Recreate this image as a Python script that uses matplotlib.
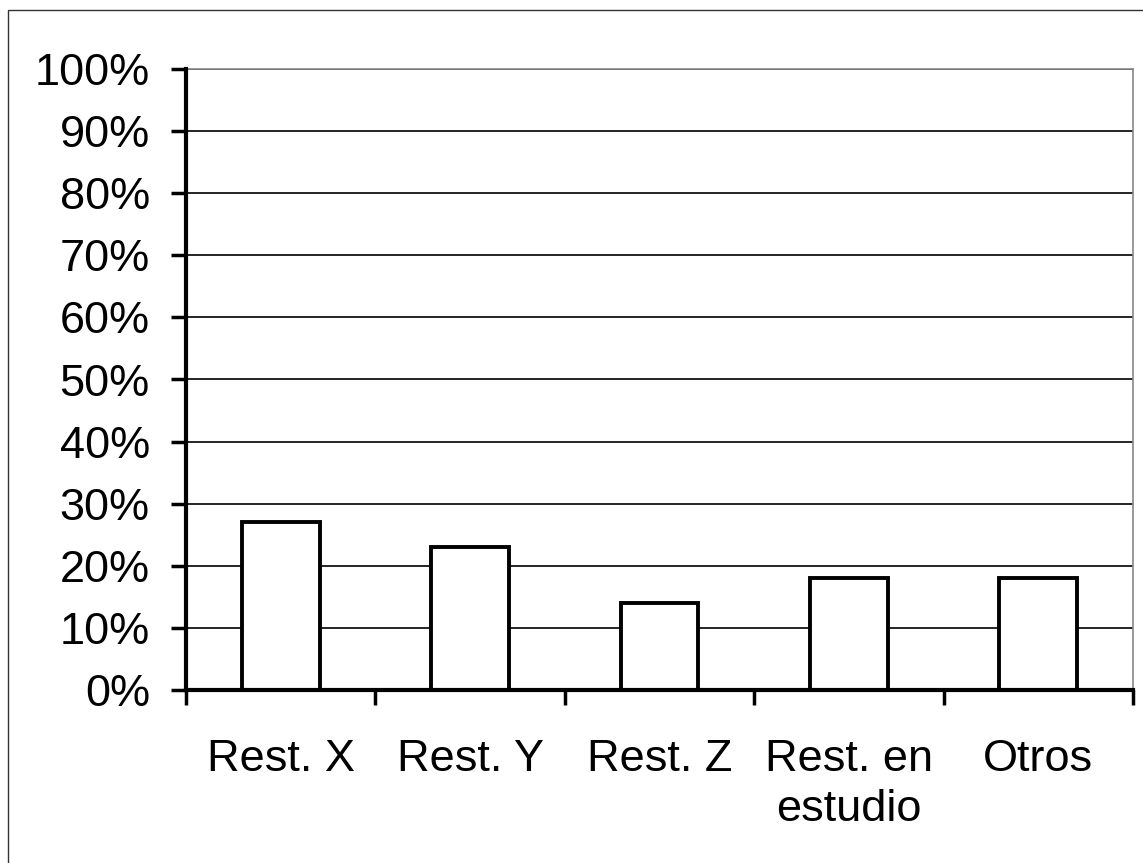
import matplotlib
matplotlib.use("Agg")
import matplotlib.pyplot as plt
from matplotlib.patches import Rectangle
from matplotlib.ticker import FuncFormatter
import numpy as np

# Chart data
categories = ["Rest. X", "Rest. Y", "Rest. Z", "Rest. en\nestudio", "Otros"]
shares = [27, 23, 14, 18, 18]
y_ticks = list(range(0, 101, 10))

plt.rcParams["font.family"] = ["Liberation Sans", "DejaVu Sans"]

fig = plt.figure(figsize=(11.43, 8.63), dpi=100)
ax = fig.add_axes([186 / 1143, 1 - 690 / 863, 947 / 1143, 621 / 863])

x = np.arange(len(categories))
ax.bar(x, shares, width=0.41, color="white", edgecolor="black",
       linewidth=2.8, zorder=3)

ax.set_xlim(-0.5, len(categories) - 0.5)
ax.set_ylim(0, 100)
ax.set_yticks(y_ticks)
ax.yaxis.set_major_formatter(FuncFormatter(lambda v, p: f"{v:.0f}%"))
ax.grid(axis="y", color="black", linewidth=1.2, zorder=1)

# category labels at centres, tick marks at boundaries
ax.set_xticks(x)
ax.set_xticklabels(categories, linespacing=1.3)
ax.set_xticks(np.arange(-0.5, len(categories)), minor=True)
ax.tick_params(axis="x", which="major", length=0, pad=35, labelsize=32.5)
ax.tick_params(axis="x", which="minor", length=11, width=2.5,
               direction="out", color="black")
ax.tick_params(axis="y", length=11, width=2.5, pad=15, labelsize=32.5)

for side in ["left", "bottom"]:
    ax.spines[side].set_linewidth(3.0)
    ax.spines[side].set_zorder(4)
for side in ["top", "right"]:
    ax.spines[side].set_color("#888888")
    ax.spines[side].set_linewidth(1.2)

# thin frame around the chart area
fig.patches.append(Rectangle((8 / 1143, -0.05), 1.1, 1 - 10 / 863 + 0.05,
                             transform=fig.transFigure, fill=False,
                             edgecolor="#333333", linewidth=1.0))

fig.savefig("out.png", dpi=100)
